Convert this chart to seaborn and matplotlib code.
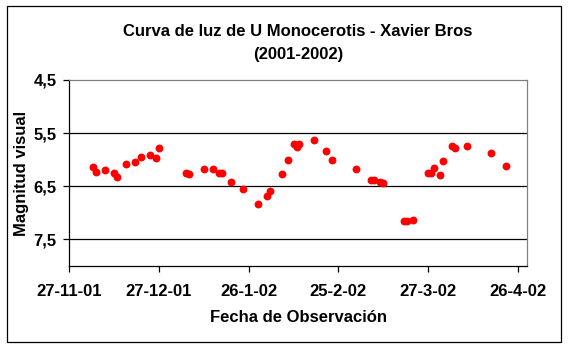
import matplotlib
matplotlib.use("Agg")
import matplotlib.pyplot as plt
import seaborn as sns
import pandas as pd
from matplotlib.patches import Rectangle

# ---- data ----
dates = ["2001-12-05", "2001-12-06", "2001-12-09", "2001-12-12", "2001-12-13", "2001-12-16",
         "2001-12-19", "2001-12-21", "2001-12-24", "2001-12-26", "2001-12-27",
         "2002-01-05", "2002-01-06", "2002-01-11", "2002-01-14", "2002-01-16", "2002-01-17",
         "2002-01-20", "2002-01-24", "2002-01-29",
         "2002-02-01", "2002-02-02", "2002-02-06", "2002-02-08", "2002-02-10", "2002-02-11",
         "2002-02-12", "2002-02-17", "2002-02-21", "2002-02-23",
         "2002-03-03", "2002-03-08", "2002-03-09", "2002-03-11", "2002-03-12", "2002-03-19",
         "2002-03-20", "2002-03-22", "2002-03-27", "2002-03-28", "2002-03-29", "2002-03-31",
         "2002-04-01", "2002-04-04", "2002-04-05", "2002-04-09", "2002-04-17", "2002-04-22"]
magnitudes = [6.13, 6.24, 6.19, 6.25, 6.33, 6.09, 6.04, 5.94, 5.91, 5.97, 5.78,
              6.25, 6.27, 6.18, 6.18, 6.25, 6.25, 6.42, 6.55, 6.83,
              6.68, 6.59, 6.27, 6.01, 5.71, 5.77, 5.71, 5.63, 5.84, 6.00,
              6.18, 6.38, 6.39, 6.41, 6.44, 7.15, 7.16, 7.13, 6.25, 6.25, 6.16, 6.28,
              6.03, 5.75, 5.78, 5.75, 5.88, 6.11]
xtick_dates = ["2001-11-27", "2001-12-27", "2002-01-26", "2002-02-25", "2002-03-27", "2002-04-26"]
xtick_labels = ["27-11-01", "27-12-01", "26-1-02", "25-2-02", "27-3-02", "26-4-02"]
ytick_values = [4.5, 5.5, 6.5, 7.5]
ytick_labels = ["4,5", "5,5", "6,5", "7,5"]
title_lines = ["Curva de luz de U Monocerotis - Xavier Bros", "(2001-2002)"]
xlabel = "Fecha de Observación"
ylabel = "Magnitud visual"

# ---- style ----
sns.set_theme(style="white")
plt.rcParams['font.family'] = ['Liberation Sans', 'DejaVu Sans']

W, H = 569, 349
fig = plt.figure(figsize=(W / 100, H / 100), dpi=100)
fig.patch.set_facecolor("white")
left, right, top, bottom = 69, 527, 80, 266
ax = fig.add_axes([left / W, 1 - bottom / H, (right - left) / W, (bottom - top) / H])

df = pd.DataFrame({"Fecha": pd.to_datetime(dates), "Magnitud": magnitudes})
sns.scatterplot(data=df, x="Fecha", y="Magnitud", ax=ax, color="#FF0000",
                s=32, linewidth=0, zorder=3, legend=False)

ax.set_ylim(8.0, 4.5)
ax.set_xlim(pd.Timestamp("2001-11-27"), pd.Timestamp("2002-04-29"))
ax.set_yticks(ytick_values)
ax.set_yticklabels(ytick_labels)
ax.set_xticks(pd.to_datetime(xtick_dates))
ax.set_xticklabels(xtick_labels)

for v in ytick_values[1:]:
    ax.axhline(v, color="black", lw=0.9, zorder=1)

for s in ["left", "bottom"]:
    ax.spines[s].set_color("black")
    ax.spines[s].set_linewidth(0.9)
for s in ["top", "right"]:
    ax.spines[s].set_color("#808080")
    ax.spines[s].set_linewidth(0.9)

ax.tick_params(axis="both", which="major", direction="out", length=4, width=0.9,
               color="black", labelsize=12, bottom=True, left=True)
ax.tick_params(axis="x", pad=9)
ax.tick_params(axis="y", pad=5)
for lab in ax.get_xticklabels() + ax.get_yticklabels():
    lab.set_fontweight("bold")
    lab.set_color("black")

ax.set_xlabel(xlabel, fontsize=12, fontweight="bold", color="black", labelpad=8)
ax.set_ylabel(ylabel, fontsize=12, fontweight="bold", color="black", labelpad=3)

fig.text(298 / W, 1 - 31 / H, title_lines[0], ha="center", va="center",
         fontsize=12, fontweight="bold", color="black")
fig.text(298 / W, 1 - 55 / H, title_lines[1], ha="center", va="center",
         fontsize=12, fontweight="bold", color="black")

fig.patches.append(Rectangle((7 / W, 1 - 342 / H), (561 - 7) / W, (342 - 6) / H,
                             transform=fig.transFigure, fill=False, ec="black", lw=0.9))

fig.savefig("out.png", dpi=100, facecolor="white")
